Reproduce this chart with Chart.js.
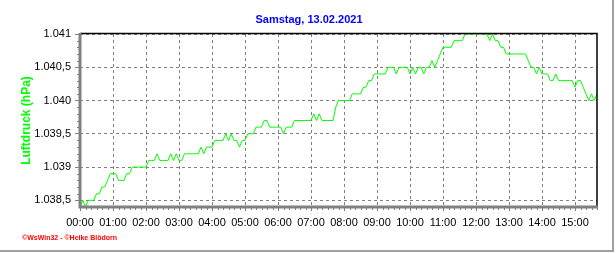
<!DOCTYPE html>
<html>
<head>
<meta charset="utf-8">
<script src="https://cdn.jsdelivr.net/npm/chart.js@4"></script>
<style>
  html, body { margin: 0; padding: 0; background: #fff; }
  canvas { display: block; }
</style>
</head>
<body>
<canvas id="pressureChart" width="616" height="253"></canvas>
<script>
const chartTitle = 'Samstag, 13.02.2021'
const axisTitle = 'Luftdruck (hPa)'
const footerText = '\u00a9WsWin32 - \u00a9Heike Bl\u00f6dorn'

// one reading every 5 minutes, 00:00 .. 15:40
const sampleMinutes = 5
const hourLabels = ['00:00', '01:00', '02:00', '03:00', '04:00', '05:00', '06:00', '07:00',
  '08:00', '09:00', '10:00', '11:00', '12:00', '13:00', '14:00', '15:00']
const pressureTicks = [1038.5, 1039, 1039.5, 1040, 1040.5, 1041]
const pressureLabels = ['1.038,5', '1.039', '1.039,5', '1.040', '1.040,5', '1.041']
const pressureMin = 1038.4
const pressureMax = 1041.0
const pressure = [
  1038.4, 1038.5, 1038.4, 1038.5, 1038.5, 1038.5, 1038.6, 1038.6, 1038.7, 1038.7, 1038.8, 1038.9,
  1038.9, 1038.9, 1038.8, 1038.8, 1038.8, 1038.9, 1038.9, 1039.0, 1039.0, 1039.0, 1039.0, 1039.0,
  1039.0, 1039.1, 1039.1, 1039.1, 1039.2, 1039.1, 1039.1, 1039.1, 1039.1, 1039.2, 1039.1, 1039.2,
  1039.1, 1039.1, 1039.2, 1039.2, 1039.2, 1039.2, 1039.2, 1039.2, 1039.3, 1039.2, 1039.3, 1039.3,
  1039.3, 1039.4, 1039.4, 1039.4, 1039.4, 1039.5, 1039.4, 1039.5, 1039.4, 1039.4, 1039.3, 1039.4,
  1039.4, 1039.5, 1039.5, 1039.5, 1039.6, 1039.6, 1039.6, 1039.7, 1039.7, 1039.6, 1039.6, 1039.6,
  1039.6, 1039.6, 1039.5, 1039.6, 1039.6, 1039.6, 1039.7, 1039.7, 1039.7, 1039.7, 1039.7, 1039.7,
  1039.7, 1039.8, 1039.7, 1039.8, 1039.7, 1039.7, 1039.7, 1039.7, 1039.7, 1039.9, 1040.0, 1040.0,
  1040.0, 1040.0, 1040.0, 1040.1, 1040.1, 1040.1, 1040.1, 1040.2, 1040.2, 1040.3, 1040.3, 1040.4,
  1040.4, 1040.4, 1040.4, 1040.4, 1040.5, 1040.5, 1040.5, 1040.4, 1040.5, 1040.5, 1040.5, 1040.5,
  1040.4, 1040.5, 1040.4, 1040.5, 1040.5, 1040.4, 1040.5, 1040.5, 1040.6, 1040.5, 1040.6, 1040.7,
  1040.8, 1040.8, 1040.8, 1040.8, 1040.9, 1040.9, 1040.9, 1040.9, 1041.0, 1041.0, 1041.0, 1041.0,
  1041.0, 1041.0, 1041.0, 1041.0, 1041.0, 1040.9, 1041.0, 1040.9, 1040.9, 1040.8, 1040.8, 1040.7,
  1040.7, 1040.7, 1040.7, 1040.7, 1040.7, 1040.7, 1040.7, 1040.6, 1040.5, 1040.5, 1040.4, 1040.5,
  1040.4, 1040.4, 1040.4, 1040.3, 1040.3, 1040.4, 1040.3, 1040.3, 1040.3, 1040.3, 1040.3, 1040.3,
  1040.2, 1040.3, 1040.3, 1040.2, 1040.1, 1040.0, 1040.1, 1040.0, 1040.1
]

const fontFamily = "'Liberation Sans', Arial, sans-serif"
const lastMinute = (pressure.length - 1) * sampleMinutes

// title, footer, axis frame and the small in-between ticks
const framePlugin = {
  id: 'frame',
  afterDraw(chart) {
    const { ctx, chartArea: a, scales } = chart
    const x = scales.x
    const y = scales.y
    ctx.save()

    ctx.strokeStyle = '#808080'
    ctx.lineWidth = 1
    ctx.beginPath()
    for (let m = 10; m <= lastMinute; m += 10) {
      if (m % 60 === 0) continue
      const px = Math.round(x.getPixelForValue(m)) + 0.5
      ctx.moveTo(px, a.bottom)
      ctx.lineTo(px, a.bottom + 3)
    }
    for (let k = 1; k < 26; k++) {
      if (k % 5 === 1) continue
      const py = Math.round(y.getPixelForValue(pressureMin + k / 10)) + 0.5
      ctx.moveTo(a.left - 3, py)
      ctx.lineTo(a.left, py)
    }
    ctx.stroke()

    ctx.strokeStyle = '#000'
    ctx.lineWidth = 1.5
    ctx.beginPath()
    ctx.moveTo(a.left, a.top - 0.5)
    ctx.lineTo(a.right, a.top - 0.5)
    ctx.lineTo(a.right, a.bottom)
    ctx.stroke()

    ctx.strokeStyle = '#808080'
    ctx.lineWidth = 3
    ctx.beginPath()
    ctx.moveTo(a.left, a.top - 1)
    ctx.lineTo(a.left, a.bottom)
    ctx.lineTo(a.right + 1, a.bottom)
    ctx.stroke()

    ctx.strokeStyle = '#a0a0a0'
    ctx.lineWidth = 2
    ctx.beginPath()
    ctx.moveTo(0, 251)
    ctx.lineTo(613, 251)
    ctx.lineTo(613, 0)
    ctx.stroke()

    ctx.fillStyle = '#0000ff'
    ctx.font = 'bold 11px ' + fontFamily
    ctx.textAlign = 'center'
    ctx.textBaseline = 'middle'
    ctx.fillText(chartTitle, 309, 19.5)

    ctx.fillStyle = '#ff0000'
    ctx.font = 'bold 7px ' + fontFamily
    ctx.textAlign = 'left'
    ctx.fillText(footerText, 22, 238)

    ctx.restore()
  }
}

new Chart(document.getElementById('pressureChart'), {
  type: 'line',
  data: {
    datasets: [{
      label: axisTitle,
      data: pressure.map((v, i) => ({ x: i * sampleMinutes, y: v })),
      borderColor: '#00ff00',
      borderWidth: 1,
      pointRadius: 0,
      tension: 0,
      fill: false
    }]
  },
  options: {
    responsive: false,
    animation: false,
    devicePixelRatio: 1,
    layout: { padding: { left: 0, right: 19, top: 34, bottom: 0 } },
    plugins: {
      legend: { display: false },
      tooltip: { enabled: false }
    },
    scales: {
      x: {
        type: 'linear',
        min: 0,
        max: lastMinute,
        afterFit: s => { s.height = 46 },
        afterBuildTicks: s => { s.ticks = hourLabels.map((_, i) => ({ value: i * 60 })) },
        ticks: {
          color: '#000',
          font: { family: fontFamily, size: 11 },
          padding: 5,
          maxRotation: 0,
          autoSkip: false,
          callback: v => hourLabels[v / 60]
        },
        grid: { color: '#808080', tickColor: '#808080', tickLength: 4 },
        border: { display: false, dash: [3, 3] }
      },
      y: {
        min: pressureMin,
        max: pressureMax,
        afterFit: s => { s.width = 80 },
        afterBuildTicks: s => { s.ticks = pressureTicks.map(v => ({ value: v })) },
        ticks: {
          color: '#000',
          font: { family: fontFamily, size: 11 },
          padding: 4,
          autoSkip: false,
          callback: (v, i) => pressureLabels[i]
        },
        grid: { color: '#808080', tickColor: '#808080', tickLength: 5 },
        border: { display: false, dash: [3, 3] },
        title: {
          display: true,
          text: axisTitle,
          color: '#00ff00',
          font: { family: fontFamily, size: 12, weight: 'bold' },
          padding: { top: 19, bottom: 0 }
        }
      }
    }
  },
  plugins: [framePlugin]
})
</script>
</body>
</html>
